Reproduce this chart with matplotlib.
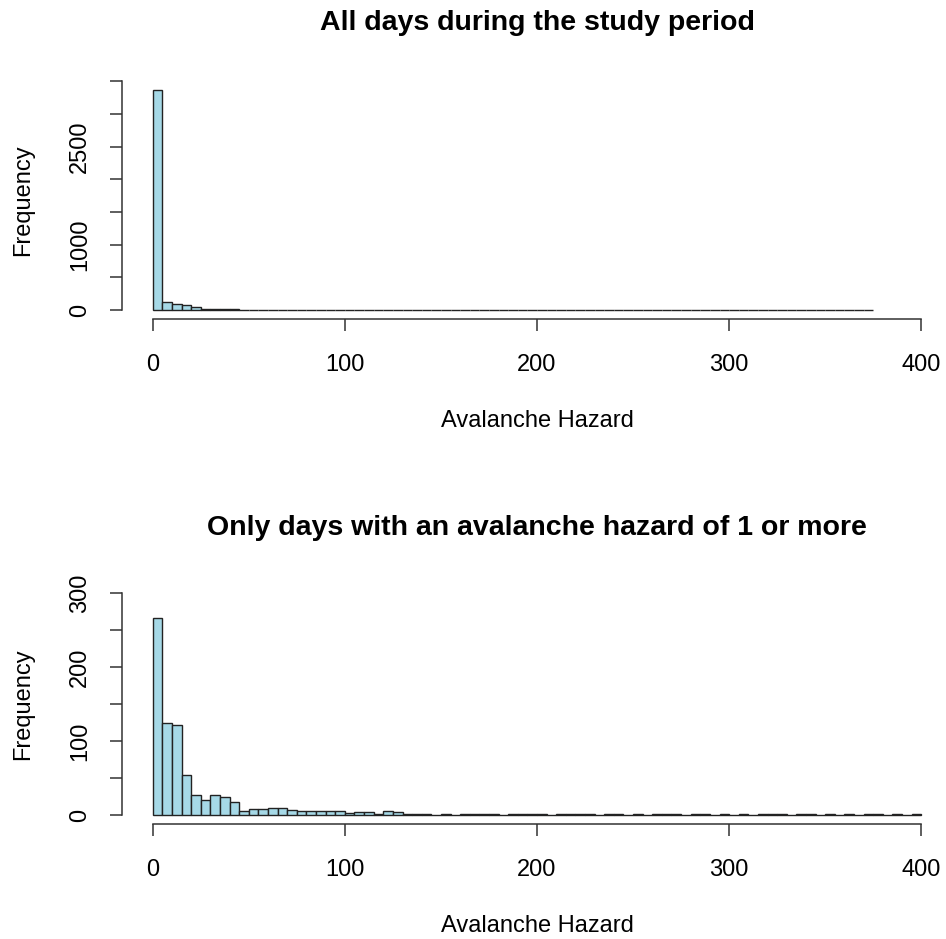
import numpy as np
import matplotlib.pyplot as plt

# bin width 5, counts
bin_width = 5

counts_all = [3370, 127, 87, 76, 41,
              20, 18, 15, 12, 8, 8, 8, 10, 10, 7, 6, 6, 5, 5, 6, 3, 4, 4, 2, 5, 4, 1, 1,
              2, 0, 1, 0, 1, 2, 2, 1, 0, 2, 1, 2,
              1, 0, 1, 1, 2, 1, 0, 2, 1, 0,
              1, 0, 1, 2, 1, 0, 1, 1, 0, 1,
              0, 1, 0, 1, 1, 2, 0, 1, 1, 0,
              1, 0, 1, 0, 2]

counts_ge1 = [266, 124, 122, 54, 27, 21, 27, 24, 18, 6, 8, 8, 10, 10, 7, 6, 6, 5, 5, 6,
              3, 4, 4, 2, 5, 4, 1, 1,
              2, 0, 1, 0, 1, 2, 2, 1, 0, 2, 1, 2,
              1, 0, 1, 1, 2, 1, 0, 2, 1, 0,
              1, 0, 1, 2, 1, 0, 1, 1, 0, 1,
              0, 1, 0, 1, 1, 2, 0, 1, 1, 0,
              1, 0, 1, 0, 2, 1, 0, 1, 0, 1]

xticks = [0, 100, 200, 300, 400]
yticks_all = [0, 500, 1000, 1500, 2000, 2500, 3000, 3500]
ylabels_all = ["0", "", "1000", "", "", "2500", "", ""]
yticks_ge1 = [0, 50, 100, 150, 200, 250, 300]
ylabels_ge1 = ["0", "", "100", "", "200", "", "300"]

titles = ["All days during the study period",
          "Only days with an avalanche hazard of 1 or more"]

W, H = 946, 939
plt.rcParams['font.family'] = ['Liberation Sans', 'DejaVu Sans']

fig = plt.figure(figsize=(W / 100, H / 100), dpi=100)


def box(l, t, r, b):
    return [l / W, 1 - b / H, (r - l) / W, (b - t) / H]


def panel(rect, counts, ylim, yticks, ylabels, title, title_y, xlab_y):
    ax = fig.add_axes(rect)
    edges = np.arange(len(counts)) * bin_width
    ax.bar(edges, counts, width=bin_width, align="edge", color="#A6D9E7",
           edgecolor="#222222", linewidth=1.0)
    ax.set_xlim(-16, 416)
    ax.set_ylim(*ylim)
    for s in ["top", "right"]:
        ax.spines[s].set_visible(False)
    ax.spines["left"].set_bounds(yticks[0], yticks[-1])
    ax.spines["bottom"].set_bounds(xticks[0], xticks[-1])
    for s in ["left", "bottom"]:
        ax.spines[s].set_color("#333333")
        ax.spines[s].set_linewidth(1.1)
    ax.set_xticks(xticks, [str(t) for t in xticks])
    ax.set_yticks(yticks, ylabels)
    ax.tick_params(length=8.5, width=1.1, color="#333333", labelsize=17)
    ax.tick_params(axis="x", pad=17)
    ax.tick_params(axis="y", pad=14, labelrotation=90)
    for lab in ax.get_yticklabels():
        lab.set_va("center")
    cx = (rect[0] + rect[2] / 2)
    fig.text(cx, 1 - title_y / H, title, ha="center", va="center",
             fontsize=20.5, fontweight="bold")
    fig.text(cx, 1 - xlab_y / H, "Avalanche Hazard", ha="center", va="center",
             fontsize=17)
    fig.text(23 / W, rect[1] + rect[3] / 2, "Frequency", ha="center", va="center",
             rotation=90, fontsize=17)
    return ax


panel(box(122, 81, 952, 319), counts_all, (-135, 3505), yticks_all, ylabels_all,
      titles[0], 23, 421)
panel(box(122, 584, 952, 824), counts_ge1, (-12, 312), yticks_ge1, ylabels_ge1,
      titles[1], 528, 926)

fig.savefig("out.png", dpi=100)
